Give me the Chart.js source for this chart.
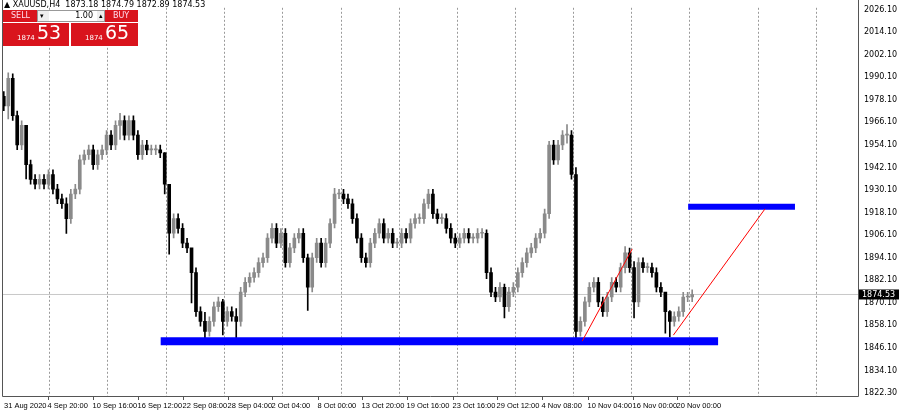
<!DOCTYPE html>
<html>
<head>
<meta charset="utf-8">
<script src="https://cdn.jsdelivr.net/npm/chart.js@4"></script>
<style>
  html, body { margin: 0; padding: 0; background: #fff; }
  #wrap { width: 900px; height: 412px; }
</style>
</head>
<body>
<div id="wrap"><canvas id="chart"></canvas></div>
<script>
// closing prices, one per candle (8-hour steps)
const closes = [
  1974.9,1989.5,1969.7,1954.1,1964.5,1943.6,1935.8,1933.2,1935.8,1933.2,
  1938.4,1930.6,1925.4,1922.8,1914.9,1928.0,1930.6,1946.2,1948.9,1951.5,
  1943.6,1948.9,1951.5,1959.3,1954.1,1964.5,1967.1,1959.3,1967.1,1959.3,
  1948.9,1954.1,1951.5,1951.5,1951.5,1949.9,1933.2,1907.1,1914.9,1909.7,
  1901.9,1899.3,1886.2,1865.4,1860.2,1854.9,1860.2,1868.0,1870.6,1860.2,
  1865.4,1862.8,1860.2,1875.8,1881.0,1883.6,1886.2,1891.5,1894.1,1904.5,
  1909.7,1901.9,1907.1,1891.5,1899.3,1904.5,1907.1,1894.1,1878.4,1894.1,
  1901.9,1891.5,1901.9,1912.3,1928.0,1928.0,1925.4,1922.8,1914.9,1904.5,
  1894.1,1891.5,1901.9,1907.1,1912.3,1904.5,1907.1,1901.9,1901.9,1907.1,
  1904.5,1912.3,1914.9,1914.9,1922.8,1928.0,1917.5,1914.9,1914.9,1909.7,
  1904.5,1901.9,1904.5,1907.1,1904.5,1904.5,1907.1,1907.1,1886.2,1875.8,
  1873.2,1878.4,1868.0,1875.8,1878.4,1886.2,1891.5,1896.7,1899.3,1904.5,
  1907.1,1917.5,1954.1,1946.2,1954.1,1959.3,1959.3,1938.4,1854.9,1860.2,
  1870.6,1878.4,1881.0,1870.6,1865.4,1873.2,1881.0,1878.4,1888.8,1896.7,
  1888.8,1870.6,1891.5,1888.8,1888.8,1886.2,1878.4,1875.8,1865.4,1860.2,
  1862.8,1865.4,1873.2,1873.2,1874.5
];
const firstOpen = 1980.0;
// wicks that stand out: candle index -> [high, low]
const extremes = {
  1: [1992.5, 1968], 5: [1950, 1936], 14: [1926, 1907], 26: [1971, 1957],
  36: [1950, 1928], 37: [1916, 1896], 42: [1895, 1870], 45: [1865, 1849],
  49: [1872, 1853], 52: [1867, 1850], 68: [1896, 1866], 74: [1931, 1910],
  108: [1909, 1883], 112: [1880, 1862], 122: [1956, 1915], 126: [1965, 1955],
  128: [1942, 1849], 139: [1900, 1886], 141: [1892, 1862], 148: [1868, 1854],
  149: [1866, 1852]
};
const defaultWick = 2.5;

const yTicks = [1822.3,1834.1,1846.1,1858.1,1870.1,1882.1,1894.1,1906.1,1918.1,1930.1,
                1942.1,1954.1,1966.1,1978.1,1990.1,2002.1,2014.1,2026.1];
const timeLabels = ['31 Aug 2020','4 Sep 20:00','10 Sep 16:00','16 Sep 12:00','22 Sep 08:00',
  '28 Sep 04:00','2 Oct 04:00','8 Oct 00:00','13 Oct 20:00','19 Oct 16:00','23 Oct 16:00',
  '29 Oct 12:00','4 Nov 08:00','10 Nov 04:00','16 Nov 00:00','20 Nov 00:00'];
const timeIndex = [0,9.8,19.9,30.0,40.0,50.1,60.1,70.2,80.2,90.3,100.4,110.4,120.5,130.8,140.8,150.6];
const gridIndex = [10.3,23.2,36.4,49.4,62.4,75.5,88.5,101.5,114.4,127.4,140.4,153.3,168.8,181.8];

const lastPrice = 1874.53;
const supportZone = { from: 35.1, to: 159.8, price: 1849.7 };
const targetZone = { from: 153.1, to: 177.0, price: 1921.2 };
const redLines = [
  [[129.4, 1849.7], [140.6, 1898.8]],
  [[149.8, 1852.9], [170.3, 1920.1]]
];

// build candles
const bodies = [], wicks = [], colors = [];
closes.forEach((c, i) => {
  const o = i === 0 ? firstOpen : closes[i - 1];
  const ex = extremes[i];
  const hi = ex ? ex[0] : Math.max(o, c) + defaultWick;
  const lo = ex ? ex[1] : Math.min(o, c) - defaultWick;
  bodies.push({ x: i, y: [o, c] });
  wicks.push({ x: i, y: [lo, hi] });
  colors.push(c < o ? '#000000' : '#8a8a8a');
});

const xMin = -0.4, xMax = 191.1, yMin = 1820.5, yMax = 2027.1;

const lineSet = (pts, color, width, order) => ({
  type: 'line', data: pts.map(p => ({ x: p[0], y: p[1] })),
  borderColor: color, borderWidth: width, pointRadius: 0, order: order,
  borderCapStyle: 'butt', tension: 0
});

const overlay = {
  id: 'overlay',
  afterDraw(chart) {
    const ctx = chart.ctx, xs = chart.scales.x, ys = chart.scales.y, area = chart.chartArea;
    ctx.save();
    // frame
    ctx.strokeStyle = '#555'; ctx.lineWidth = 1;
    ctx.beginPath();
    ctx.moveTo(2.5, 0); ctx.lineTo(2.5, area.bottom + 0.5);
    ctx.lineTo(area.right + 0.5, area.bottom + 0.5); ctx.lineTo(area.right + 0.5, 0);
    ctx.stroke();
    // time labels
    ctx.font = '7.5px "Liberation Sans"'; ctx.fillStyle = '#000'; ctx.textBaseline = 'top';
    timeLabels.forEach((t, k) => {
      const x = Math.round(xs.getPixelForValue(timeIndex[k])) + 0.5;
      if (k > 0) { ctx.beginPath(); ctx.moveTo(x, area.bottom); ctx.lineTo(x, area.bottom + 4); ctx.stroke(); }
      ctx.fillText(t, k === 0 ? 4 : x - 1, area.bottom + 6);
    });
    // price tag
    const py = ys.getPixelForValue(lastPrice);
    ctx.fillStyle = '#000'; ctx.fillRect(area.right + 1, py - 5, 40, 10);
    ctx.fillStyle = '#fff'; ctx.textBaseline = 'middle';
    ctx.font = '8px "DejaVu Sans"';
    ctx.fillText(lastPrice.toFixed(2), area.right + 4, py);
    // title line
    ctx.fillStyle = '#000'; ctx.font = '8px "DejaVu Sans"';
    ctx.fillText('\u25B2 XAUUSD,H4  1873.18 1874.79 1872.89 1874.53', 4, 5);
    // trade panel
    const red = '#d9141d';
    ctx.fillStyle = red;
    ctx.fillRect(3, 10, 34, 12); ctx.fillRect(105, 10, 33, 12);
    ctx.fillRect(3, 23, 66, 23); ctx.fillRect(71, 23, 67, 23);
    ctx.fillStyle = '#eee'; ctx.fillRect(37, 10, 12, 12); ctx.fillRect(97, 10, 8, 12);
    ctx.fillStyle = '#fff'; ctx.fillRect(49, 10, 48, 12);
    ctx.strokeStyle = '#999'; ctx.strokeRect(37.5, 10.5, 67, 11);
    ctx.fillStyle = '#000'; ctx.font = '7px "DejaVu Sans"';
    ctx.fillText('\u25BE', 40, 16); ctx.fillText('\u25B4', 99, 16);
    ctx.font = '8px "DejaVu Sans"'; ctx.textAlign = 'right'; ctx.fillText('1.00', 93, 16);
    ctx.textAlign = 'left'; ctx.fillStyle = '#fde';
    ctx.fillText('SELL', 11, 16); ctx.fillText('BUY', 113, 16);
    ctx.fillStyle = '#fff';
    ctx.font = '7px "DejaVu Sans"'; ctx.fillText('1874', 17, 38); ctx.fillText('1874', 85, 38);
    ctx.font = '19px "DejaVu Sans"'; ctx.fillText('53', 37, 34); ctx.fillText('65', 105, 34);
    ctx.restore();
  }
};

new Chart(document.getElementById('chart'), {
  type: 'bar',
  data: {
    datasets: [
      lineSet([[xMin, lastPrice], [xMax, lastPrice]], '#c8c8c8', 1, 5),
      { data: wicks, backgroundColor: colors, barThickness: 1, grouped: false, order: 4 },
      { data: bodies, backgroundColor: colors, barThickness: 3, grouped: false, order: 3, minBarLength: 1 },
      lineSet([[supportZone.from, supportZone.price], [supportZone.to, supportZone.price]], '#0000ff', 8, 1),
      lineSet([[targetZone.from, targetZone.price], [targetZone.to, targetZone.price]], '#0000ff', 6, 1),
      lineSet(redLines[0], '#ff0000', 1, 0),
      lineSet(redLines[1], '#ff0000', 1, 0)
    ]
  },
  options: {
    responsive: true, maintainAspectRatio: false, animation: false,
    layout: { padding: { left: 2, top: 0, right: 0, bottom: 0 } },
    plugins: { legend: { display: false }, tooltip: { enabled: false } },
    scales: {
      x: {
        type: 'linear', min: xMin, max: xMax, offset: false,
        afterBuildTicks: s => { s.ticks = gridIndex.map(v => ({ value: v })); },
        afterFit: s => { s.height = 16; },
        ticks: { display: false },
        grid: { color: '#9a9a9a', lineWidth: 1, drawTicks: false, offset: false },
        border: { display: false, dash: [2, 2] }
      },
      y: {
        position: 'right', min: yMin, max: yMax,
        afterBuildTicks: s => { s.ticks = yTicks.map(v => ({ value: v })); },
        afterFit: s => { s.width = 42; },
        ticks: { color: '#000', font: { family: 'DejaVu Sans', size: 8 }, padding: 3,
                 callback: v => v.toFixed(2) },
        grid: { display: false, drawTicks: true, tickLength: 3 },
        border: { display: false }
      }
    }
  },
  plugins: [overlay]
});
</script>
</body>
</html>
